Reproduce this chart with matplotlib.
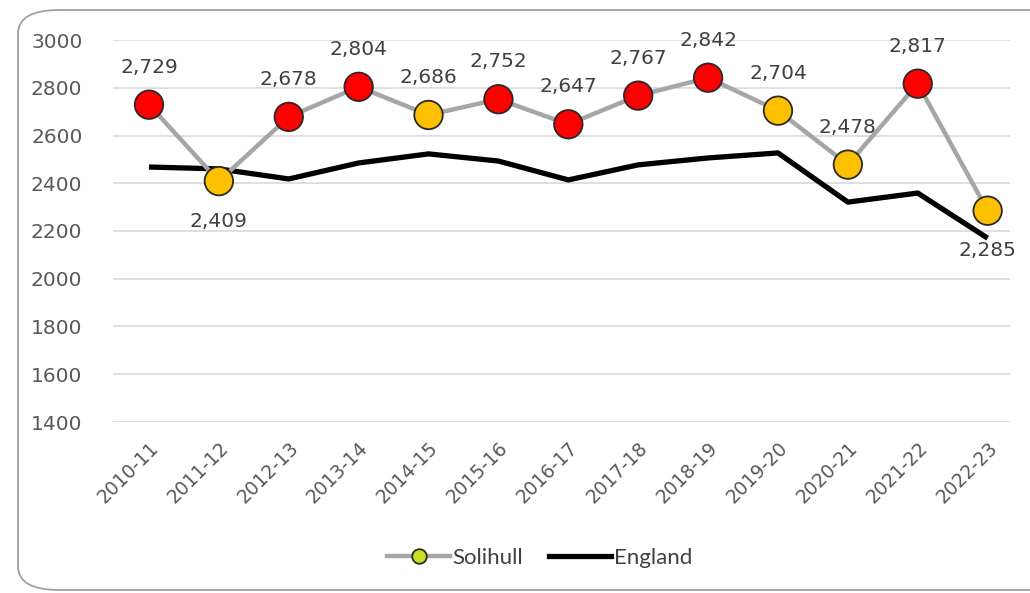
import matplotlib
matplotlib.use("Agg")
import matplotlib.pyplot as plt
from matplotlib.patches import FancyBboxPatch
from matplotlib.lines import Line2D

years = ["2010-11", "2011-12", "2012-13", "2013-14", "2014-15", "2015-16", "2016-17",
         "2017-18", "2018-19", "2019-20", "2020-21", "2021-22", "2022-23"]
solihull = [2729, 2409, 2678, 2804, 2686, 2752, 2647, 2767, 2842, 2704, 2478, 2817, 2285]
england = [2468, 2460, 2418, 2485, 2523, 2493, 2414, 2477, 2506, 2527, 2321, 2359, 2170]
# red / amber marker per year
point_colors = ["#ff0000", "#ffc000", "#ff0000", "#ff0000", "#ffc000", "#ff0000", "#ff0000",
                "#ff0000", "#ff0000", "#ffc000", "#ffc000", "#ff0000", "#ffc000"]
label_below = [False, True, False, False, False, False, False,
               False, False, False, False, False, True]
yticks = [1400, 1600, 1800, 2000, 2200, 2400, 2600, 2800, 3000]

plt.rcParams['font.family'] = ['DejaVu Sans']

fig = plt.figure(figsize=(10.30, 5.93), dpi=100)
fig.patch.set_facecolor("white")

# rounded chart frame
frame = FancyBboxPatch((18 / 1030, 3 / 593), 1.05, 580 / 593,
                       boxstyle="round,pad=0,rounding_size=0.04",
                       transform=fig.transFigure, facecolor="none",
                       edgecolor="#a0a0a0", linewidth=1.3, zorder=-1)
fig.patches.append(frame)

ax = fig.add_axes([113 / 1030, 1 - 422 / 593, (1010 - 113) / 1030, (422 - 40) / 593])
ax.set_facecolor("none")

x = list(range(len(years)))
ax.plot(x, england, color="black", linewidth=3.8, zorder=2, solid_capstyle="butt")
ax.plot(x, solihull, color="#a6a6a6", linewidth=3.2, zorder=3)
ax.scatter(x, solihull, s=20.5 ** 2, c=point_colors, edgecolors="#2a2a2a",
           linewidths=1.3, zorder=4, clip_on=False)

for xi, v, below in zip(x, solihull, label_below):
    dy = -29 if below else 27
    ax.annotate(f"{v:,}", (xi, v), xytext=(0, dy), textcoords="offset points",
                ha="center", va="center", fontsize=14.5, color="#404040", zorder=5)

ax.set_xlim(-0.515, 12.32)
ax.set_ylim(1400, 3000)
ax.set_yticks(yticks)
ax.set_yticklabels([str(t) for t in yticks])
ax.set_xticks(x)
ax.set_xticklabels(years, rotation=45, ha="right", rotation_mode="anchor")
ax.tick_params(axis="y", length=0, pad=22, labelsize=14.5, labelcolor="#595959")
ax.tick_params(axis="x", length=0, pad=12, labelsize=13.5, labelcolor="#595959")
ax.grid(axis="y", color="#d9d9d9", linewidth=1.2)
ax.set_axisbelow(True)
for s in ax.spines.values():
    s.set_visible(False)

handles = [
    Line2D([0], [0], color="#a6a6a6", linewidth=3.2, marker="o", markersize=10.5,
           markerfacecolor="#c8e020", markeredgecolor="#2a2a2a", markeredgewidth=1.3),
    Line2D([0], [0], color="black", linewidth=3.8),
]
fig.legend(handles, ["Solihull", "England"], loc="center", bbox_to_anchor=(0.524, 1 - 558 / 593),
           ncol=2, frameon=False, handlelength=2.8, handletextpad=0.1,
           columnspacing=1.2, labelcolor="#404040",
           prop={"family": "Lato", "size": 16})

fig.savefig("out.png", dpi=100, facecolor="white")
